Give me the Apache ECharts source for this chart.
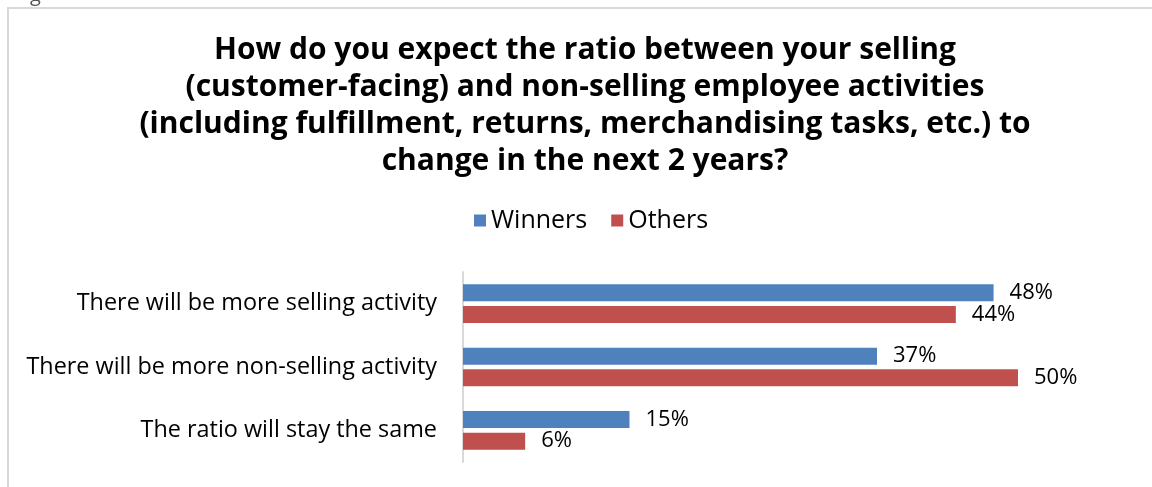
<!DOCTYPE html>
<html>
<head>
<meta charset="utf-8">
<script src="https://cdn.jsdelivr.net/npm/echarts@6/dist/echarts.min.js"></script>
<style>
html,body{margin:0;padding:0;background:#fff;}
#c{width:1152px;height:487px;}
</style>
</head>
<body>
<div id="c"></div>
<script>
const titleText = "How do you expect the ratio between your selling\n(customer-facing) and non-selling employee activities\n(including fulfillment, returns, merchandising tasks, etc.) to\nchange in the next 2 years?";
const categories = ["There will be more selling activity", "There will be more non-selling activity", "The ratio will stay the same"];
const seriesNames = ["Winners", "Others"];
const winners = [47.8, 37.3, 15];
const others = [44.4, 50, 5.6];
const colors = ["#4F81BD", "#C0504D"];
const FONT = "'Open Sans', Lato, sans-serif";

const chart = echarts.init(document.getElementById('c'));
const labelCfg = {
  show: true, position: 'right', distance: 16,
  color: '#000', fontSize: 22, fontFamily: FONT,
  formatter: p => Math.round(p.value) + '%'
};
chart.setOption({
  animation: false,
  backgroundColor: '#fff',
  graphic: [
    { type: 'polyline', shape: { points: [[8, 500], [8, 8], [1200, 8]] }, style: { stroke: '#d9d9d9', lineWidth: 2, fill: null } },
    { type: 'text', left: 30, top: -15, style: { text: 'g', font: '20px ' + FONT, fill: '#555' } }
  ],
  title: {
    text: titleText, left: 580, top: 27, textAlign: 'center',
    textStyle: { fontFamily: FONT, fontWeight: 'bold', fontSize: 30, lineHeight: 37, color: '#000' }
  },
  legend: {
    data: seriesNames, top: 203, left: 469,
    icon: 'rect', itemWidth: 12, itemHeight: 12, itemGap: 24, itemStyle: {borderWidth: 0},
    textStyle: { fontFamily: FONT, fontSize: 25, color: '#000' }
  },
  grid: { left: 463, top: 272, width: 555, height: 190, containLabel: false },
  xAxis: {
    type: 'value', min: 0, max: 50, show: false
  },
  yAxis: {
    type: 'category', data: categories, inverse: true,
    axisLine: { show: true, lineStyle: { color: '#d9d9d9', width: 2 } },
    axisTick: { show: false },
    axisLabel: { fontFamily: FONT, fontSize: 23.4, color: '#000', margin: 26 }
  },
  series: [
    { name: seriesNames[0], type: 'bar', data: winners, barWidth: 17, barGap: '27%', itemStyle: { color: colors[0] }, label: labelCfg },
    { name: seriesNames[1], type: 'bar', data: others, barWidth: 17, barGap: '27%', itemStyle: { color: colors[1] }, label: labelCfg }
  ]
});
</script>
</body>
</html>
